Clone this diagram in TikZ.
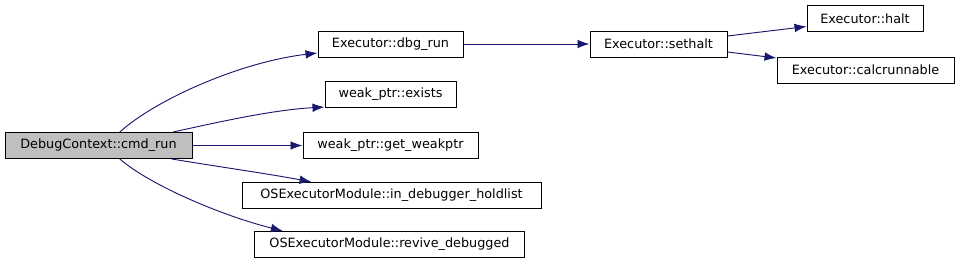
\documentclass[tikz,border=0pt]{standalone}
\usepackage{fontspec}
\setmainfont{DejaVu Sans}
\usetikzlibrary{arrows.meta}
\definecolor{edgec}{HTML}{191970}
\definecolor{grayf}{HTML}{BFBFBF}
\begin{document}
\begin{tikzpicture}[x=0.75pt,y=-0.75pt,
  fn/.style={draw=black,line width=0.75pt,fill=white,minimum height=19.5pt,inner sep=0pt,font=\fontsize{9.6}{11}\selectfont},
  cl/.style={draw=edgec,line width=0.7pt,-{Latex[length=9pt,width=6.5pt]}}]
\useasboundingbox (0,0) rectangle (960,265);
\node[fn,fill=grayf,minimum width=140.25pt] (cmd) at (98.5,145.5) {DebugContext::cmd\_run};
\node[fn,minimum width=108.75pt] (dbg) at (390.5,44) {Executor::dbg\_run};
\node[fn,minimum width=98.25pt] (exi) at (390.5,94.5) {weak\_ptr::exists};
\node[fn,minimum width=131.25pt] (gwp) at (390.5,145.5) {weak\_ptr::get\_weakptr};
\node[fn,minimum width=224.25pt] (hold) at (391.5,195.5) {OSExecutorModule::in\_debugger\_holdlist};
\node[fn,minimum width=202.5pt] (rev) at (389.5,244.5) {OSExecutorModule::revive\_debugged};
\node[fn,minimum width=102.75pt] (set) at (658.5,44) {Executor::sethalt};
\node[fn,minimum width=87pt] (halt) at (865,18.5) {Executor::halt};
\node[fn,minimum width=132.75pt] (calc) at (865.5,70) {Executor::calcrunnable};
\draw[cl] ([xshift=16pt]cmd.north) .. controls (155,100) and (240,62) .. ([yshift=-6.75pt]dbg.west);
\draw[cl] ([xshift=56pt]cmd.north) .. controls (210,124) and (270,110) .. ([yshift=-9.4pt]exi.west);
\draw[cl] (cmd.east) -- (gwp.west);
\draw[cl] ([xshift=55pt]cmd.south) .. controls (220,167) and (270,174) .. ([xshift=-60pt]hold.north);
\draw[cl] ([xshift=16pt]cmd.south) .. controls (150,185) and (220,215) .. ([xshift=-80pt]rev.north);
\draw[cl] (dbg.east) -- (set.west);
\draw[cl] ([yshift=6pt]set.east) -- ([yshift=-6pt]halt.west);
\draw[cl] ([yshift=-6pt]set.east) -- ([yshift=9pt]calc.west);
\end{tikzpicture}
\end{document}
